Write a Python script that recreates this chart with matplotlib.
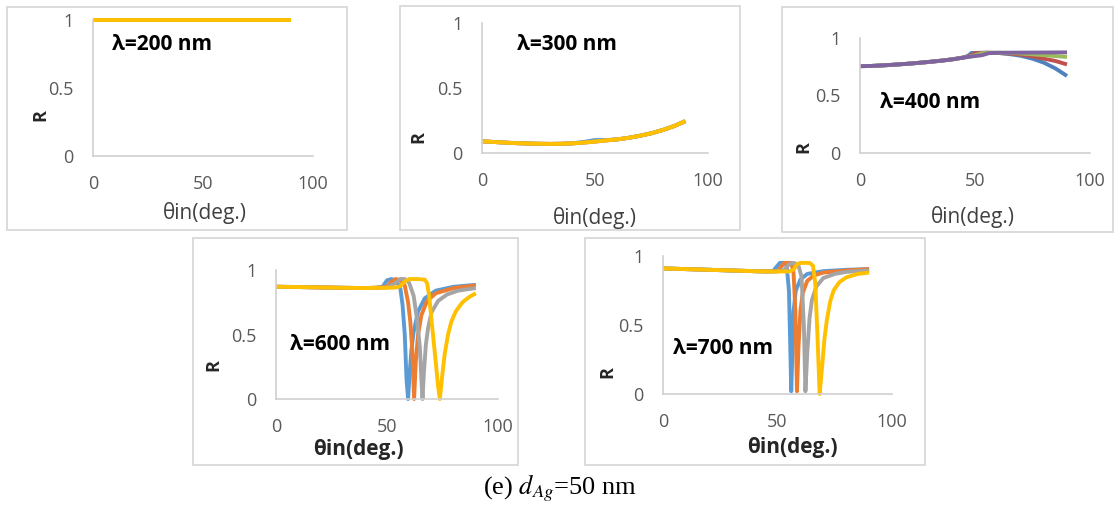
import matplotlib
matplotlib.use('Agg')
import matplotlib.pyplot as plt
from matplotlib.patches import Rectangle

plt.rcParams['font.family'] = ['Open Sans', 'DejaVu Sans']
plt.rcParams['mathtext.fontset'] = 'stix'

# ---- data (theta in deg, R) ----
# lambda = 200 nm: all four curves sit on R = 1
th200 = [0, 30, 60, 90]
r200 = [1.0, 1.0, 1.0, 1.0]

# lambda = 300 nm
th300 = [0, 5, 10, 15, 20, 25, 30, 35, 40, 45, 50, 55, 60, 65, 70, 75, 80, 85, 90]
r300 = [0.09, 0.085, 0.08, 0.076, 0.073, 0.071, 0.07, 0.071, 0.074, 0.08, 0.088,
        0.097, 0.105, 0.117, 0.133, 0.152, 0.177, 0.207, 0.245]
r300_blue = [0.09, 0.085, 0.08, 0.076, 0.073, 0.071, 0.07, 0.071, 0.075, 0.085, 0.1,
             0.1, 0.105, 0.117, 0.133, 0.152, 0.177, 0.207, 0.245]

# lambda = 400 nm
th400_base = [0, 5, 10, 15, 20, 25, 30, 35, 40, 45]
r400_base = [0.755, 0.757, 0.762, 0.768, 0.775, 0.783, 0.792, 0.802, 0.814, 0.83]
th400_blue = [47, 48.5, 55, 60, 65, 70, 75, 80, 85, 90]
r400_blue = [0.845, 0.87, 0.872, 0.87, 0.86, 0.845, 0.82, 0.785, 0.735, 0.67]
th400_red = [48, 50, 55, 60, 65, 70, 75, 80, 85, 90]
r400_red = [0.845, 0.868, 0.872, 0.87, 0.865, 0.855, 0.84, 0.82, 0.8, 0.77]
th400_green = [48, 50, 53, 58, 65, 70, 75, 80, 85, 90]
r400_green = [0.84, 0.85, 0.868, 0.872, 0.87, 0.865, 0.858, 0.85, 0.843, 0.835]
th400_purple = [48, 50, 53, 56, 60, 70, 80, 90]
r400_purple = [0.838, 0.843, 0.85, 0.868, 0.872, 0.873, 0.874, 0.875]

# lambda = 600 nm
th600_base = [0, 10, 20, 30, 40, 45]
r600_base = [0.87, 0.868, 0.865, 0.862, 0.86, 0.862]
th600_blue = [48, 50, 52, 54, 56, 57, 58, 58.8, 59.5, 60.2, 61, 62, 64, 67, 72, 80, 90]
r600_blue = [0.87, 0.92, 0.93, 0.92, 0.86, 0.73, 0.5, 0.15, 0.0, 0.2, 0.38, 0.52,
             0.68, 0.78, 0.84, 0.87, 0.885]
th600_orange = [50, 52, 54, 56, 58, 59.5, 60.5, 61.3, 62.2, 63, 64, 65.5, 68, 72, 80, 90]
r600_orange = [0.87, 0.91, 0.93, 0.92, 0.88, 0.75, 0.6, 0.4, 0.0, 0.3, 0.5, 0.65,
               0.76, 0.82, 0.86, 0.88]
th600_gray = [50, 54, 56, 58, 60, 62, 63.5, 64.8, 65.5, 66, 66.6, 67.5, 68.5, 70, 73,
              77, 82, 90]
r600_gray = [0.865, 0.9, 0.93, 0.93, 0.9, 0.8, 0.62, 0.4, 0.15, 0.0, 0.2, 0.42, 0.55,
             0.67, 0.76, 0.81, 0.84, 0.86]
th600_yellow = [50, 54, 56, 58, 60, 64, 67, 68, 69, 70, 71, 72, 73, 73.8, 75, 76, 77.5,
                79, 81, 84, 87, 90]
r600_yellow = [0.862, 0.864, 0.875, 0.91, 0.93, 0.93, 0.925, 0.9, 0.8, 0.62, 0.45,
               0.28, 0.1, 0.0, 0.2, 0.35, 0.5, 0.6, 0.68, 0.75, 0.79, 0.82]

# lambda = 700 nm
th700_base = [0, 10, 20, 30, 40, 45]
r700_base = [0.91, 0.905, 0.9, 0.895, 0.89, 0.888]
th700_blue = [48, 50, 51, 53, 54, 55, 55.5, 56, 56.5, 57, 58, 60, 63, 70, 80, 90]
r700_blue = [0.89, 0.93, 0.95, 0.95, 0.93, 0.75, 0.4, 0.02, 0.3, 0.6, 0.75, 0.83,
             0.87, 0.89, 0.9, 0.905]
th700_orange = [50, 52, 53, 56, 57, 57.8, 58.5, 59.2, 60, 61, 63, 66, 70, 80, 90]
r700_orange = [0.89, 0.93, 0.95, 0.95, 0.88, 0.6, 0.02, 0.35, 0.6, 0.73, 0.82, 0.86,
               0.88, 0.895, 0.905]
th700_gray = [50, 53, 55, 57, 59, 60.5, 61.5, 62.2, 63, 64, 65, 67, 70, 75, 80, 90]
r700_gray = [0.888, 0.9, 0.94, 0.95, 0.94, 0.85, 0.5, 0.02, 0.3, 0.55, 0.68, 0.78,
             0.84, 0.87, 0.885, 0.895]
th700_yellow = [50, 55, 57, 58.5, 60, 64, 65.5, 66.5, 67.5, 68.4, 69.5, 70.5, 71.5, 73,
                74.5, 77, 80, 85, 90]
r700_yellow = [0.888, 0.888, 0.9, 0.94, 0.95, 0.95, 0.93, 0.8, 0.4, 0.0, 0.2, 0.4,
               0.53, 0.67, 0.75, 0.81, 0.845, 0.87, 0.88]

NEW_COLORS = ['#5B9BD5', '#ED7D31', '#A5A5A5', '#FFC000']
OLD_COLORS = ['#4F81BD', '#C0504D', '#9BBB59', '#8064A2']

W, H = 1115, 508


def fx(x):
    return x / W


def fy(y):
    return 1 - y / H


def with_base(th_base, r_base, th, r):
    return th_base + th, r_base + r


fig = plt.figure(figsize=(W / 100, H / 100), dpi=100)


def panel(box, axbox, series, colors, label, label_xy, rlabel_xy, xlabel_xy, bold_x):
    x0, y0, x1, y1 = box
    fig.add_artist(Rectangle((fx(x0), fy(y1)), (x1 - x0) / W, (y1 - y0) / H,
                             transform=fig.transFigure, fill=False,
                             edgecolor='#D9D9D9', lw=1.3))
    a0, b0, a1, b1 = axbox
    ax = fig.add_axes([fx(a0), fy(b1), (a1 - a0) / W, (b1 - b0) / H])
    for (th, r), c in zip(series, colors):
        ax.plot(th, r, color=c, lw=2.8, clip_on=False, solid_capstyle='butt',
                solid_joinstyle='round')
    ax.set_xlim(0, 100)
    ax.set_ylim(0, 1)
    ax.set_xticks([0, 50, 100])
    ax.set_yticks([0, 0.5, 1])
    ax.set_yticklabels(['0', '0.5', '1'])
    for s in ['top', 'right']:
        ax.spines[s].set_visible(False)
    for s in ['left', 'bottom']:
        ax.spines[s].set_color('#D0D0D0')
        ax.spines[s].set_linewidth(1.2)
    ax.tick_params(length=0, pad=14, labelsize=13, labelcolor='#595959')
    fig.text(fx(label_xy[0]), fy(label_xy[1]), label, fontsize=15,
             fontweight='bold', ha='left', va='center')
    fig.text(fx(rlabel_xy[0]), fy(rlabel_xy[1]), 'R', fontsize=13,
             fontweight='bold', rotation=90, ha='center', va='center', color='#262626')
    fig.text(fx(xlabel_xy[0]), fy(xlabel_xy[1]), 'θin(deg.)', fontsize=15,
             fontweight='bold' if bold_x else 'normal', ha='center', va='center',
             color='#262626' if bold_x else '#404040')
    return ax


panel((7, 7, 347, 230), (93, 20, 313, 156),
      [(th200, r200)] * 4, NEW_COLORS,
      'λ=200 nm', (112, 45), (40, 115), (205, 213), False)

panel((400, 6, 740, 230), (482, 23, 708, 153),
      [(th300, r300_blue), (th300, r300), (th300, r300), (th300, r300)], NEW_COLORS,
      'λ=300 nm', (517, 45), (418, 137), (595, 218), False)

panel((782, 7, 1113, 232), (860, 38, 1090, 153),
      [with_base(th400_base, r400_base, th400_blue, r400_blue),
       with_base(th400_base, r400_base, th400_red, r400_red),
       with_base(th400_base, r400_base, th400_green, r400_green),
       with_base(th400_base, r400_base, th400_purple, r400_purple)], OLD_COLORS,
      'λ=400 nm', (880, 103), (803, 147), (973, 217), False)

panel((193, 238, 518, 465), (276, 270, 498, 399),
      [with_base(th600_base, r600_base, th600_blue, r600_blue),
       with_base(th600_base, r600_base, th600_orange, r600_orange),
       with_base(th600_base, r600_base, th600_gray, r600_gray),
       with_base(th600_base, r600_base, th600_yellow, r600_yellow)], NEW_COLORS,
      'λ=600 nm', (290, 345), (213, 365), (358, 450), True)

panel((585, 238, 925, 465), (663, 256, 892, 394),
      [with_base(th700_base, r700_base, th700_blue, r700_blue),
       with_base(th700_base, r700_base, th700_orange, r700_orange),
       with_base(th700_base, r700_base, th700_gray, r700_gray),
       with_base(th700_base, r700_base, th700_yellow, r700_yellow)], NEW_COLORS,
      'λ=700 nm', (673, 348), (607, 372), (792, 448), True)

fig.text(fx(560), fy(488), r'(e) $d_{Ag}$=50 nm', family='Liberation Serif',
         fontsize=19, ha='center', va='center')

fig.savefig('out.png', dpi=100)
